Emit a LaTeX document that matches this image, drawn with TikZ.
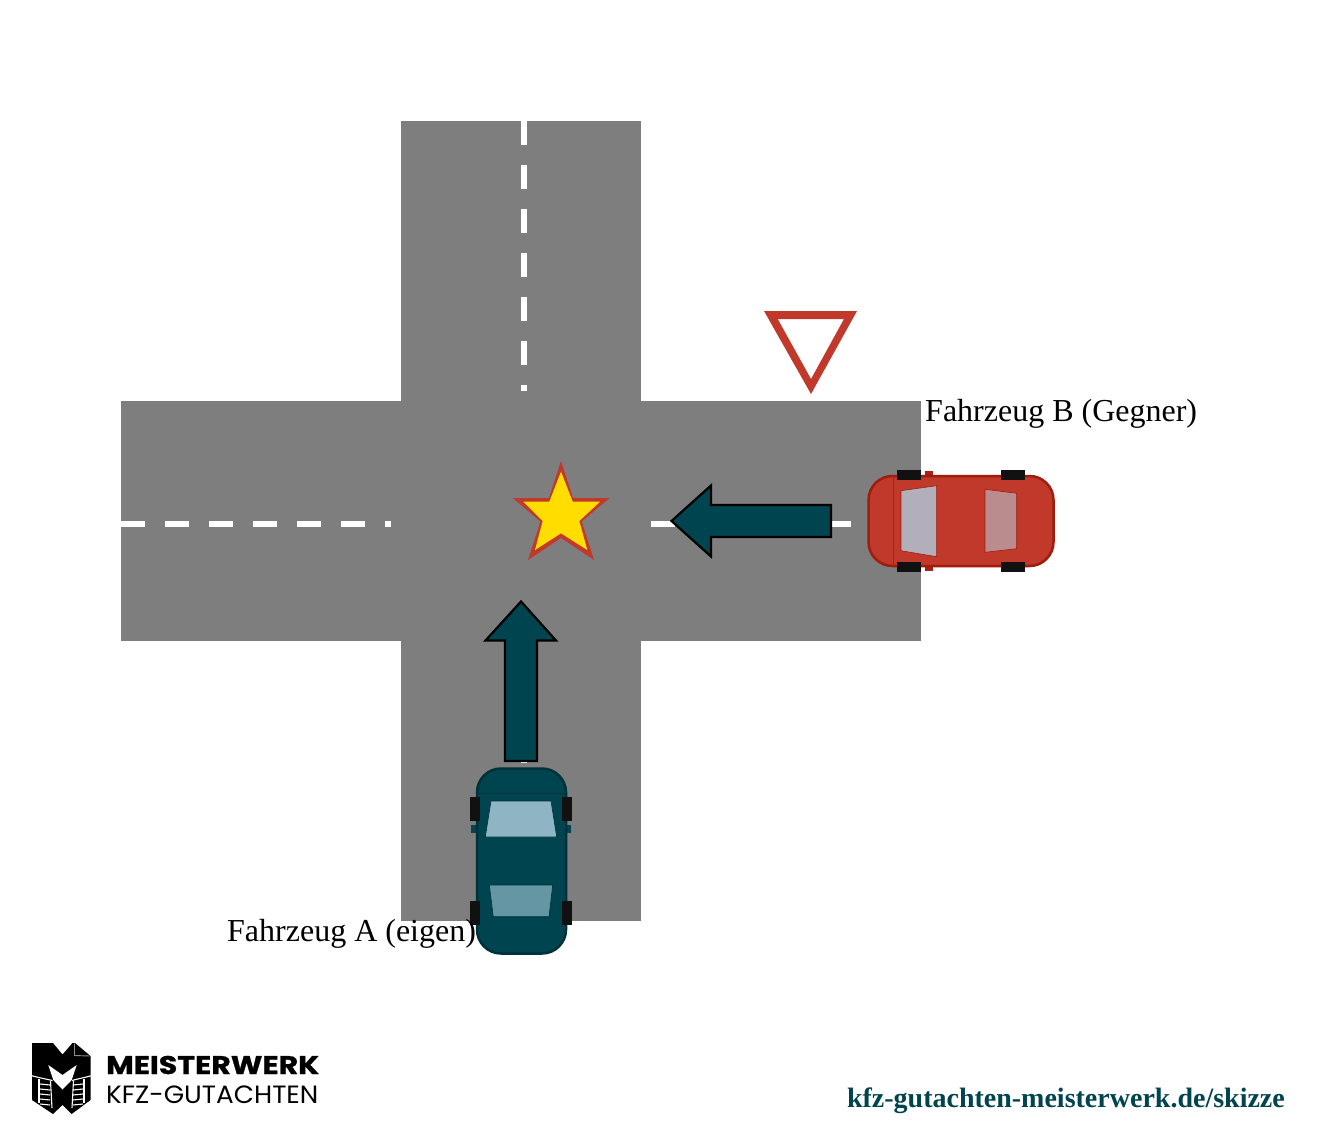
\documentclass[tikz,border=0pt]{standalone}
\usepackage{fontspec}
\setmainfont{Liberation Serif}
\newfontfamily\logoheavy[FakeStretch=1.177,FakeBold=1]{Poppins Bold}
\newfontfamily\logolight[FakeStretch=1.05]{Poppins}
\definecolor{roadgrey}{HTML}{7E7E7E}
\definecolor{teal}{HTML}{00444F}
\definecolor{tealedge}{HTML}{00303A}
\definecolor{signred}{HTML}{C0392B}
\definecolor{rededge}{HTML}{A01C0C}
\definecolor{starfill}{HTML}{FFDD00}
\definecolor{tyre}{HTML}{111111}
\definecolor{screenA}{HTML}{8FB5C5}
\definecolor{rearA}{HTML}{6596A3}
\definecolor{screenB}{HTML}{B3AFBA}
\definecolor{rearB}{HTML}{BB8C8E}
\tikzset{
  road/.style={fill=roadgrey,draw=none},
  lanemark/.style={draw=white,line width=6pt,dash pattern=on 24pt off 20pt},
  movearrow/.style={fill=teal,draw=black,line width=2.2pt,miter limit=10},
  wheelbox/.style={fill=tyre,draw=none},
  label/.style={font=\fontsize{32}{36}\selectfont,anchor=base west,inner sep=0pt,text=black},
  glassA/.style={draw=tealedge,line width=0.6pt},
  glassB/.style={draw=rededge,line width=0.6pt},
  bodyA/.style={fill=teal,draw=tealedge,line width=2.5pt,rounded corners=24pt},
  bodyB/.style={fill=signred,draw=rededge,line width=2.5pt,rounded corners=24pt},
  logocut/.style={draw=white,line width=1.1pt}
}
\begin{document}
\begin{tikzpicture}[x=1pt,y=-1pt]
\path[use as bounding box,fill=white] (0,0) rectangle (1317,1134);

% crossroads
\fill[road] (121,401) rectangle (921,641);
\fill[road] (401,121) rectangle (641,921);
\draw[lanemark] (524,121) -- (524,391);
\draw[lanemark] (121,524) -- (391,524);
\draw[lanemark] (651,524) -- (852,524);
\draw[lanemark] (524,651) -- (524,764);

% give-way sign
\fill[signred,even odd rule] (764,311) -- (857,311) -- (811,394) -- cycle
  (777.7,319) -- (844,319) -- (811,379) -- cycle;

% collision star
\fill[signred] (561,461) -- (573,498) -- (609.5,498) -- (581.7,521.5) -- (594,560)
  -- (561,538) -- (528,560) -- (540.5,521.5) -- (512.7,498) -- (549,498) -- cycle;
\fill[starfill] (561,471.7) -- (572.7,501.7) -- (600,501.7) -- (579.3,521) -- (587.3,550)
  -- (561,533.3) -- (535,550) -- (542.7,521) -- (523.3,501.7) -- (549.3,501.7) -- cycle;

% direction arrows
\draw[movearrow] (671.5,521) -- (711,485.5) -- (711,505) -- (831,505) -- (831,537) -- (711,537) -- (711,556.5) -- cycle;
\draw[movearrow] (521,601.5) -- (556,640.5) -- (537,640.5) -- (537,761) -- (505,761) -- (505,640.5) -- (485.5,640.5) -- cycle;

% vehicle A, seen from above
\fill[teal] (471,825) rectangle (479,833);
\fill[teal] (563,825) rectangle (571,833);
\draw[bodyA] (477,768.5) rectangle (566,953.5);
\fill[wheelbox] (470,797) rectangle (480,821);
\fill[wheelbox] (562,797) rectangle (572,821);
\fill[wheelbox] (470,901) rectangle (480,925);
\fill[wheelbox] (562,901) rectangle (572,925);
\draw[tealedge,line width=0.8pt] (477,793) -- (566,793);
\filldraw[glassA,fill=screenA] (491,801) -- (551,801) -- (556.7,837) -- (485.3,837) -- cycle;
\filldraw[glassA,fill=rearA] (489.3,885) -- (552.7,885) -- (549,916.7) -- (493.3,916.7) -- cycle;

% vehicle B, seen from above
\fill[rededge!80!signred] (925,471) rectangle (933,480);
\fill[rededge!80!signred] (925,562) rectangle (933,571);
\draw[bodyB] (868.5,476) rectangle (1053.5,566);
\fill[wheelbox] (897,470) rectangle (921,480);
\fill[wheelbox] (897,562) rectangle (921,572);
\fill[wheelbox] (1001,470) rectangle (1025,480);
\fill[wheelbox] (1001,562) rectangle (1025,572);
\draw[rededge!70!signred,line width=0.8pt] (893,476) -- (893,566);
\filldraw[glassB,fill=screenB] (901,490.7) -- (936.7,485.7) -- (936.7,556.7) -- (901,550.7) -- cycle;
\filldraw[glassB,fill=rearB] (985,489.3) -- (1016.7,493.3) -- (1016.7,548.7) -- (985,552.3) -- cycle;

% vehicle labels
\node[label] (labelB) at (925,421) {Fahrzeug B (Gegner)};
\node[label] (labelA) at (227,941) {Fahrzeug A (eigen)};

% company mark: shield silhouette
\fill[black] (32,1043) -- (53,1043) -- (62.5,1054.5) -- (72.5,1043) -- (75,1043) -- (90.5,1056)
  -- (90.5,1100) -- (71.7,1114) -- (62.5,1105) -- (53,1114) -- (32,1100) -- cycle;
\draw[white!55!black,line width=0.9pt] (74.5,1043.5) -- (74.5,1055.5) -- (90,1056);
% star cut-out and the gaps around the tyre panels
\fill[white] (48.3,1065) -- (62.5,1075) -- (76.7,1065) -- (71.7,1080) -- (62.5,1089.5) -- (53.3,1080) -- cycle;
\draw[logocut] (31,1075.5) .. controls (40,1078) and (46,1079) .. (52.5,1080.5);
\draw[logocut] (92,1075.5) .. controls (83,1078) and (77,1079) .. (72,1080.5);
\draw[logocut] (39,1079) -- (39,1103);
\draw[logocut] (84,1079) -- (84,1103);
\draw[logocut] (50.5,1081) -- (52,1108);
\draw[logocut] (73.5,1081) -- (72,1108);
\foreach \ty in {1084,1089,1094,1099,1104}{
  \draw[logocut] (40,\ty) -- (50,\ty+1);
  \draw[logocut] (83,\ty) -- (73,\ty+1);
}

% company name and web address
\node[anchor=base west,inner sep=0pt,font=\logoheavy\fontsize{25.5}{28}\selectfont] (brand) at (106,1074) {MEISTERWERK};
\node[anchor=base west,inner sep=0pt,font=\logolight\fontsize{25}{28}\selectfont] (brandsub) at (106,1103) {KFZ-GUTACHTEN};
\node[anchor=base east,inner sep=0pt,text=teal,font=\bfseries\fontsize{28}{32}\selectfont] (weblink) at (1285,1107) {kfz-gutachten-meisterwerk.de/skizze};
\end{tikzpicture}
\end{document}
